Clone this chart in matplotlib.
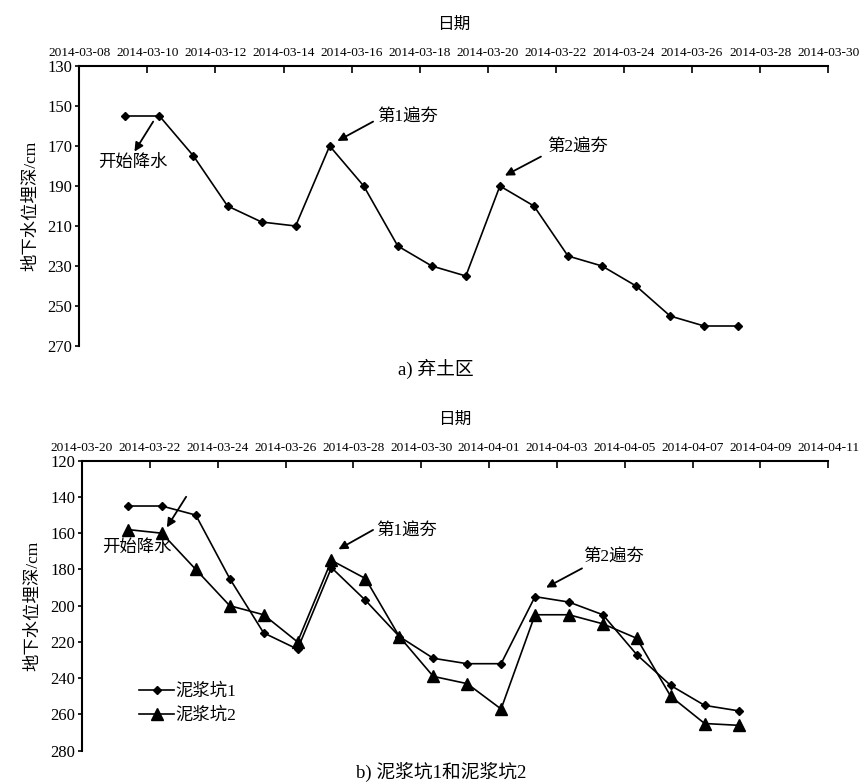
import matplotlib
matplotlib.use("Agg")
import matplotlib.pyplot as plt
import matplotlib.dates as mdates
import pandas as pd

plt.rcParams["font.family"] = ["Liberation Serif", "Noto Sans CJK SC"]

# 弃土区: daily readings from 2014-03-09
top_start = "2014-03-09"
top_depth = [155, 155, 175, 200, 208, 210, 170, 190, 220, 230,
             235, 190, 200, 225, 230, 240, 255, 260, 260]

# 泥浆坑1 / 泥浆坑2: daily readings from 2014-03-21
bottom_start = "2014-03-21"
pit1_depth = [145, 145, 150, 185, 215, 224, 179, 197, 217, 229,
              232, 232, 195, 198, 205, 227, 244, 255, 258]
pit2_depth = [158, 160, 180, 200, 205, 220, 175, 185, 217, 239,
              243, 257, 205, 205, 210, 218, 250, 265, 266]

reading_time = pd.Timedelta(hours=8, minutes=30)

top_range = ("2014-03-08", "2014-03-30")
bottom_range = ("2014-03-20", "2014-04-11")
top_yticks = [130, 150, 170, 190, 210, 230, 250, 270]
bottom_yticks = [120, 140, 160, 180, 200, 220, 240, 260, 280]

YLABEL = "地下水位埋深/cm"
XLABEL = "日期"


def dates_from(start, n):
    return pd.date_range(start, periods=n, freq="D") + reading_time


def day(start, offset):
    return mdates.date2num(pd.Timestamp(start)) + offset


def style_axes(ax, xrange, yticks):
    lo, hi = pd.Timestamp(xrange[0]), pd.Timestamp(xrange[1])
    ax.set_xlim(lo, hi)
    ax.set_ylim(yticks[-1], yticks[0])
    ax.set_yticks(yticks)
    ax.xaxis.set_major_locator(mdates.DayLocator(interval=2))
    ax.xaxis.set_major_formatter(mdates.DateFormatter("%Y-%m-%d"))
    ax.xaxis.tick_top()
    ax.xaxis.set_label_position("top")
    for side in ["right", "bottom"]:
        ax.spines[side].set_visible(False)
    for side in ["left", "top"]:
        ax.spines[side].set_linewidth(1.5)
    ax.tick_params(axis="x", direction="in", length=5, width=1.2,
                   labelsize=9.6, pad=5)
    ax.tick_params(axis="y", direction="out", length=3, width=1.2,
                   labelsize=12, pad=2)
    ax.set_xlabel(XLABEL, fontsize=12, labelpad=13)
    ax.set_ylabel(YLABEL, fontsize=12.5, labelpad=6)


def arrow_note(ax, text, text_xy, tail, head):
    ax.annotate("", xy=head, xytext=tail,
                arrowprops=dict(arrowstyle="-|>", color="black", lw=1.3,
                                mutation_scale=13, shrinkA=0, shrinkB=0))
    ax.text(text_xy[0], text_xy[1], text, fontsize=12.5,
            ha="center", va="center")


fig = plt.figure(figsize=(8.59, 7.82), dpi=100)
ax1 = fig.add_axes([79.3 / 859, 1 - 346 / 782, 749 / 859, 280 / 782])
ax2 = fig.add_axes([82 / 859, 1 - 750.7 / 782, 746.3 / 859, 290 / 782])

# a) 弃土区
ax1.plot(dates_from(top_start, len(top_depth)), top_depth, color="black",
         lw=1.2, marker="D", ms=4.5)
style_axes(ax1, top_range, top_yticks)
s = top_range[0]
arrow_note(ax1, "开始降水", (day(s, 1.58), 178.7),
           (day(s, 2.17), 157.8), (day(s, 1.62), 172.8))
arrow_note(ax1, "第1遍夯", (day(s, 9.64), 156),
           (day(s, 8.63), 157.8), (day(s, 7.58), 167.5))
arrow_note(ax1, "第2遍夯", (day(s, 14.65), 171),
           (day(s, 13.56), 175.3), (day(s, 12.50), 184.8))
fig.text(436 / 859, 1 - 369 / 782, "a) 弃土区", fontsize=13.5,
         ha="center", va="center")

# b) 泥浆坑1和泥浆坑2
ax2.plot(dates_from(bottom_start, len(pit1_depth)), pit1_depth, color="black",
         lw=1.2, marker="D", ms=3.8, label="泥浆坑1")
ax2.plot(dates_from(bottom_start, len(pit2_depth)), pit2_depth, color="black",
         lw=1.2, marker="^", ms=9, label="泥浆坑2")
style_axes(ax2, bottom_range, bottom_yticks)
s = bottom_range[0]
arrow_note(ax2, "开始降水", (day(s, 1.62), 168.4),
           (day(s, 3.07), 139.9), (day(s, 2.50), 156.8))
arrow_note(ax2, "第1遍夯", (day(s, 9.56), 159.2),
           (day(s, 8.58), 158.2), (day(s, 7.56), 168.9))
arrow_note(ax2, "第2遍夯", (day(s, 15.66), 173.3),
           (day(s, 14.74), 179.4), (day(s, 13.68), 190))
ax2.legend(loc="upper left", bbox_to_anchor=(0.077, 0.232), frameon=False,
           fontsize=12.5, handlelength=2.0, handletextpad=0.05,
           borderpad=0, borderaxespad=0, labelspacing=0.42)
fig.text(441 / 859, 1 - 772 / 782, "b) 泥浆坑1和泥浆坑2", fontsize=13.5,
         ha="center", va="center")

fig.savefig("out.png", dpi=100)
